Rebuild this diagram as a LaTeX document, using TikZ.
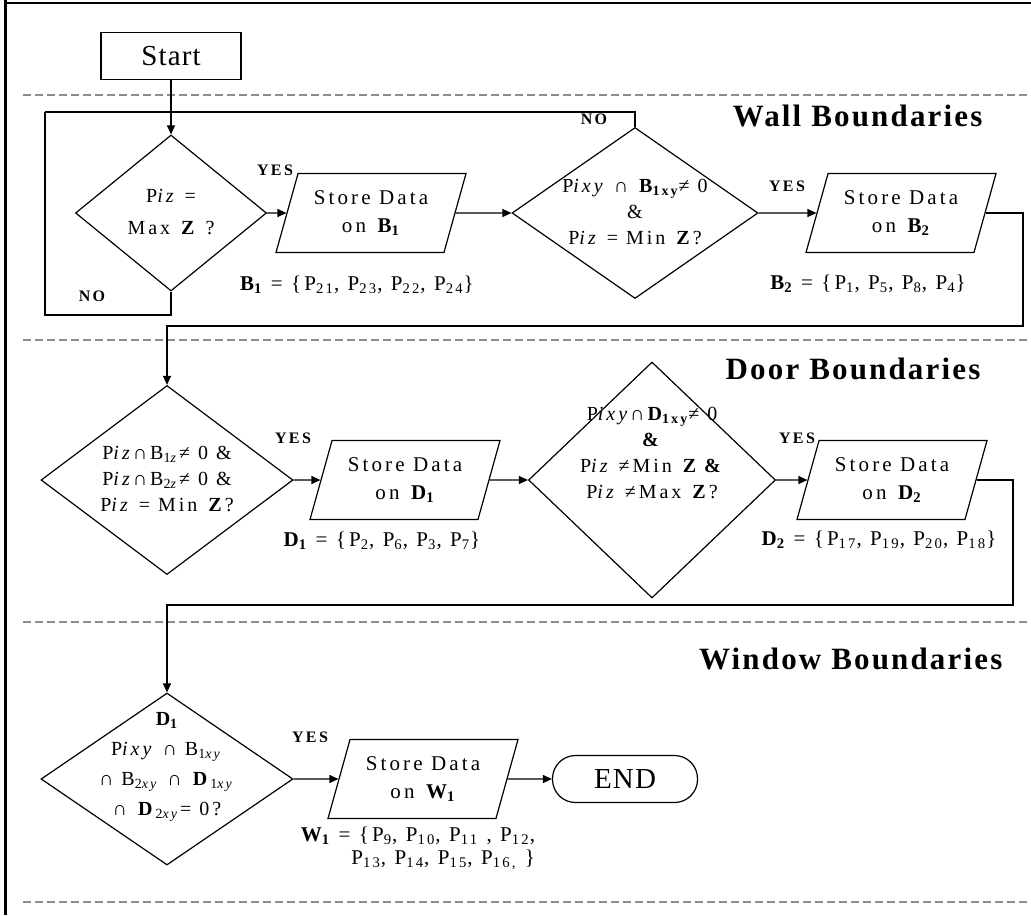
\documentclass[tikz,border=0pt]{standalone}
\usepackage{fontspec}
\setmainfont{Liberation Serif}[LetterSpace=15]
\newfontfamily\tightserif{Liberation Serif}[LetterSpace=4]
\newfontfamily\titleserif{Liberation Serif}[LetterSpace=7]
\usetikzlibrary{arrows.meta, positioning, shapes, calc}

\newcommand{\lo}[1]{\textsubscript{#1}}
\newcommand{\intext}[2][0pt]{\smash{\makebox[0pt]{\raisebox{\dimexpr#1-0.25em\relax}{\begin{tabular}{@{}c@{}}#2\end{tabular}}}}}

\begin{document}
\begin{tikzpicture}[x=0.5pt, y=-0.5pt, line width=0.6pt,
    >={Triangle[length=4.5pt, width=4pt]},
    terminal/.style={draw, minimum width=70pt, minimum height=23.5pt, inner sep=0pt, font=\tightserif\fontsize{14.5}{16}\selectfont},
    decision/.style={draw, diamond, inner sep=0pt, font=\fontsize{10}{13}\selectfont},
    datastore/.style={draw, trapezium, trapezium left angle=64, trapezium right angle=116, trapezium stretches body, minimum width=95pt, minimum height=39.5pt, inner xsep=1pt, inner ysep=0pt, align=center, font=\fontsize{10.5}{14}\selectfont},
    answer/.style={inner sep=0pt, font=\bfseries\fontsize{8}{9}\selectfont},
    setlabel/.style={inner sep=0pt, font=\fontsize{10.5}{13}\selectfont},
    zone/.style={anchor=east, inner sep=0pt, font=\titleserif\bfseries\fontsize{15.5}{17}\selectfont},
    divider/.style={gray!90, line width=0.8pt, dash pattern=on 4pt off 2pt}]
    % Frame
    \useasboundingbox (0,0) rectangle (1031,915);
    \draw[line width=1.5pt] (5,0) -- (5,915);
    \draw[line width=1pt] (5,3) -- (1031,3);

    % Section dividers and titles
    \foreach \yy in {95,340,622,902}
        \draw[divider] (23,\yy) -- (1031,\yy);
    \node[zone] (wall) at (983,116) {Wall Boundaries};
    \node[zone] (door) at (981,369) {Door Boundaries};
    \node[zone] (window) at (1003,659) {Window Boundaries};

    % Wall boundaries
    \node[terminal] (start) at (171,56) {Start};
    \node[decision, minimum width=95.5pt, minimum height=78pt] (d1) at (171,213)
        {\intext{P\textit{iz} =\\[3pt] Max \textbf{Z} ?}};
    \node[datastore] (p1) at (371,213) {Store Data\\ on \textbf{B\lo{1}}};
    \node[decision, minimum width=123pt, minimum height=85.5pt] (d2) at (635,213)
        {\intext{P\textit{ixy} ∩ \textbf{B\lo{1xy}}≠ 0\\ \&\\ P\textit{iz} = Min \textbf{Z}?}};
    \node[datastore] (p2) at (901,213) {Store Data\\ on \textbf{B\lo{2}}};
    \node[answer] (yes1) at (275,170) {YES};
    \node[answer] (yes2) at (787,186) {YES};
    \node[answer] (no1) at (92,296) {NO};
    \node[answer] (no2) at (594,119) {NO};
    \node[setlabel] (b1set) at (357,285) {\textbf{B\lo{1}} = \{P\lo{21}, P\lo{23}, P\lo{22}, P\lo{24}\}};
    \node[setlabel] (b2set) at (868,284) {\textbf{B\lo{2}} = \{P\lo{1}, P\lo{5}, P\lo{8}, P\lo{4}\}};

    \coordinate (nob) at (45,315);
    \coordinate (not) at (45,112);
    \draw[->] (start) -- (d1);
    \draw (d1.south) |- (nob) -- (not);
    \draw (d2.north) |- (not);
    \draw[->] (d1) -- (p1);
    \draw[->] (p1) -- (d2);
    \draw[->] (d2) -- (p2);

    % Door boundaries
    \node[decision, minimum width=126pt, minimum height=94.5pt] (d3) at (167,480)
        {\intext{P\textit{iz}∩B\lo{1\textit{z}}≠ 0 \&\\ P\textit{iz}∩B\lo{2\textit{z}}≠ 0 \&\\ P\textit{iz} = Min \textbf{Z}?}};
    \node[datastore] (p3) at (405,480) {Store Data\\ on \textbf{D\lo{1}}};
    \node[decision, minimum width=123.5pt, minimum height=118pt] (d4) at (652,480)
        {\intext[13pt]{P\textit{ixy}∩\textbf{D\lo{1xy}}≠ 0\\ \textbf{\&}\\ P\textit{iz} ≠Min \textbf{Z \&}\\ P\textit{iz} ≠Max \textbf{Z}?}};
    \node[datastore] (p4) at (892,480) {Store Data\\ on \textbf{D\lo{2}}};
    \node[answer] (yes3) at (293,438) {YES};
    \node[answer] (yes4) at (797,438) {YES};
    \node[setlabel] (d1set) at (382,541) {\textbf{D\lo{1}} = \{P\lo{2}, P\lo{6}, P\lo{3}, P\lo{7}\}};
    \node[setlabel] (d2set) at (879,540) {\textbf{D\lo{2}} = \{P\lo{17}, P\lo{19}, P\lo{20}, P\lo{18}\}};

    \coordinate (turn1) at (1023,326);
    \draw[->] (p2.east) -| (turn1) -| (d3.north);
    \draw[->] (d3) -- (p3);
    \draw[->] (p3) -- (d4);
    \draw[->] (d4) -- (p4);

    % Window boundaries
    \node[decision, minimum width=126pt, minimum height=86pt] (d5) at (167,779)
        {\intext[7pt]{\textbf{D\lo{1}}\\[2pt] P\textit{ixy} ∩ B\lo{1\textit{xy}}\\[2pt] ∩ B\lo{2\textit{xy}} ∩ \textbf{D}\lo{1\textit{xy}}\\[2pt] ∩ \textbf{D}\lo{2\textit{xy}}= 0?}};
    \node[datastore] (p5) at (423,779) {Store Data\\ on \textbf{W\lo{1}}};
    \node[terminal, rounded corners=11.5pt, minimum width=72.5pt] (end) at (625,779) {END};
    \node[answer] (yes5) at (310,737) {YES};
    \node[setlabel, align=right, font=\fontsize{10.5}{11.5}\selectfont] (w1set) at (418,848)
        {\textbf{W\lo{1}} = \{P\lo{9}, P\lo{10}, P\lo{11} , P\lo{12},\\ P\lo{13}, P\lo{14}, P\lo{15}, P\lo{16,} \}};

    \coordinate (turn2) at (1013,605);
    \draw[->] (p4.east) -| (turn2) -| (d5.north);
    \draw[->] (d5) -- (p5);
    \draw[->] (p5) -- (end);
\end{tikzpicture}
\end{document}
